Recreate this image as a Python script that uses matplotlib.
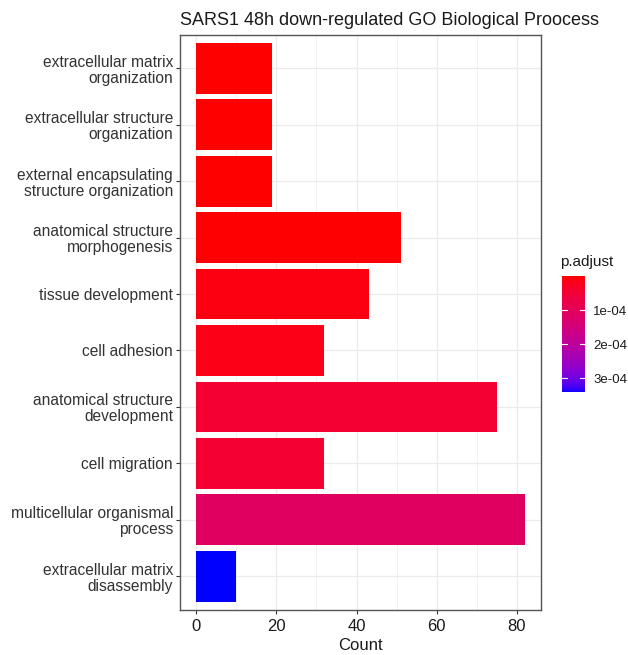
import numpy as np
import matplotlib
matplotlib.use("Agg")
import matplotlib.pyplot as plt
from matplotlib.colors import ListedColormap, Normalize
from matplotlib.cm import ScalarMappable

plt.rcParams['font.family'] = ['Liberation Sans', 'DejaVu Sans']

terms = [
    "extracellular matrix\norganization",
    "extracellular structure\norganization",
    "external encapsulating\nstructure organization",
    "anatomical structure\nmorphogenesis",
    "tissue development",
    "cell adhesion",
    "anatomical structure\ndevelopment",
    "cell migration",
    "multicellular organismal\nprocess",
    "extracellular matrix\ndisassembly",
]
counts = [19, 19, 19, 51, 43, 32, 75, 32, 82, 10]
p_adjust = [1.0e-7, 1.5e-7, 2.0e-7, 2.0e-6, 1.2e-5, 1.6e-5, 4.5e-5, 4.5e-5, 1.1e-4, 3.4e-4]
cbar_ticks = [1e-4, 2e-4, 3e-4]
cbar_labels = ["1e-04", "2e-04", "3e-04"]


# red -> blue gradient interpolated in CIELAB, like ggplot's continuous fill
def srgb_to_lab(rgb):
    rgb = np.asarray(rgb, float)
    lin = np.where(rgb <= 0.04045, rgb / 12.92, ((rgb + 0.055) / 1.055) ** 2.4)
    m = np.array([[0.4124, 0.3576, 0.1805],
                  [0.2126, 0.7152, 0.0722],
                  [0.0193, 0.1192, 0.9505]])
    xyz = m @ lin / np.array([0.95047, 1.0, 1.08883])
    f = np.where(xyz > 0.008856, np.cbrt(xyz), 7.787 * xyz + 16 / 116)
    return np.array([116 * f[1] - 16, 500 * (f[0] - f[1]), 200 * (f[1] - f[2])])


def lab_to_srgb(lab):
    L, a, b = lab
    fy = (L + 16) / 116
    fx = fy + a / 500
    fz = fy - b / 200
    f = np.array([fx, fy, fz])
    xyz = np.where(f ** 3 > 0.008856, f ** 3, (f - 16 / 116) / 7.787)
    xyz = xyz * np.array([0.95047, 1.0, 1.08883])
    m = np.array([[3.2406, -1.5372, -0.4986],
                  [-0.9689, 1.8758, 0.0415],
                  [0.0557, -0.2040, 1.0570]])
    lin = m @ xyz
    rgb = np.where(lin <= 0.0031308, 12.92 * lin, 1.055 * np.abs(lin) ** (1 / 2.4) - 0.055)
    return np.clip(rgb, 0, 1)


lab_lo = srgb_to_lab([1, 0, 0])
lab_hi = srgb_to_lab([0, 0, 1])
ramp = [lab_to_srgb(lab_lo + t * (lab_hi - lab_lo)) for t in np.linspace(0, 1, 256)]
cmap = ListedColormap(ramp)
norm = Normalize(vmin=min(p_adjust), vmax=max(p_adjust))

fig = plt.figure(figsize=(6.28, 6.55), dpi=100)
ax = fig.add_axes([0.2866, 0.0687, 0.5749, 0.8786])

y = np.arange(len(terms))[::-1]
ax.barh(y, counts, height=0.9, color=cmap(norm(p_adjust)), zorder=3)

ax.set_xlim(-4.1, 86.1)
ax.set_ylim(-0.6, len(terms) - 0.4)
ax.set_yticks(y)
ax.set_yticklabels(terms, fontsize=11.2, color="#1a1a1a", linespacing=1.08)
ax.set_xticks([0, 20, 40, 60, 80])
ax.set_xticks([10, 30, 50, 70], minor=True)
ax.tick_params(axis='x', labelsize=12, colors="#333333", labelcolor="#1a1a1a", length=3, width=0.8)
ax.tick_params(axis='y', colors="#333333", length=3, width=0.8, pad=2)
ax.tick_params(axis='x', which='minor', length=0)
ax.grid(True, which='major', color="#ebebeb", linewidth=0.9, zorder=0)
ax.grid(True, which='minor', axis='x', color="#ebebeb", linewidth=0.5, zorder=0)
for s in ax.spines.values():
    s.set_color("#555555")
    s.set_linewidth(1.0)
ax.set_xlabel("Count", fontsize=12, color="#1a1a1a", labelpad=3)
ax.set_title("SARS1 48h down-regulated GO Biological Proocess", fontsize=13,
             loc='left', color="#1a1a1a", pad=7)

# colour bar legend
cax = fig.add_axes([562 / 628, 1 - 392 / 655, 23 / 628, 116 / 655])
cb = fig.colorbar(ScalarMappable(norm=norm, cmap=cmap), cax=cax)
cb.outline.set_visible(False)
cax.invert_yaxis()
cb.set_ticks(cbar_ticks)
cb.set_ticklabels(cbar_labels)
cax.tick_params(length=0, labelsize=9.5, labelcolor="#1a1a1a", pad=6)
for t in cbar_ticks:
    cax.plot([0, 0.2], [t, t], color="white", lw=0.8, transform=cax.get_yaxis_transform())
    cax.plot([0.8, 1.0], [t, t], color="white", lw=0.8, transform=cax.get_yaxis_transform())
fig.text(560 / 628, 1 - 262 / 655, "p.adjust", fontsize=11, color="#1a1a1a", va='center')

fig.savefig("out.png", dpi=100)
